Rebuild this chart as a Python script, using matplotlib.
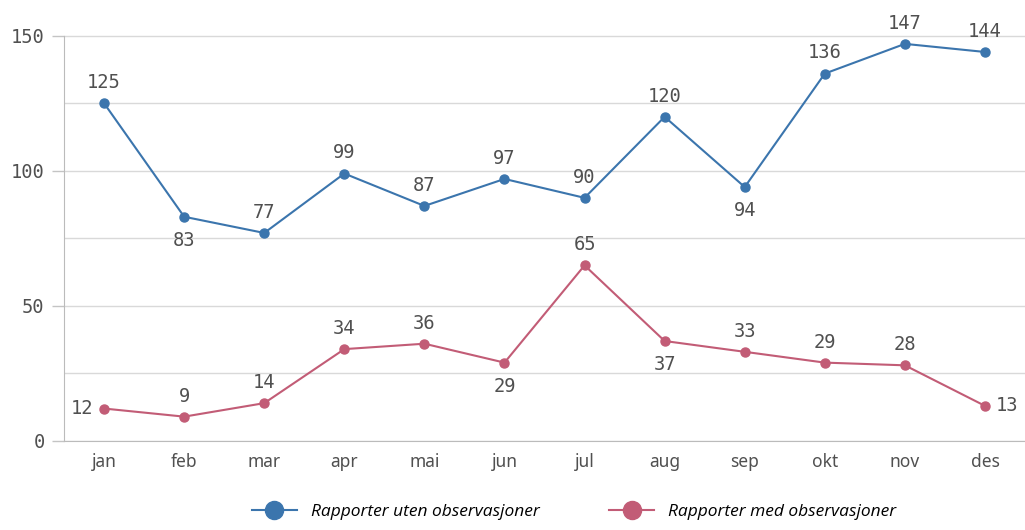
import matplotlib
matplotlib.use('Agg')
import matplotlib.pyplot as plt
from matplotlib.lines import Line2D

months = ['jan', 'feb', 'mar', 'apr', 'mai', 'jun', 'jul', 'aug', 'sep', 'okt', 'nov', 'des']
uten = [125, 83, 77, 99, 87, 97, 90, 120, 94, 136, 147, 144]
med = [12, 9, 14, 34, 36, 29, 65, 37, 33, 29, 28, 13]
# label placement per point: 'a' above, 'b' below, 'l' left, 'r' right
uten_pos = ['a', 'b', 'a', 'a', 'a', 'a', 'a', 'a', 'b', 'a', 'a', 'a']
med_pos = ['l', 'a', 'a', 'a', 'a', 'b', 'a', 'b', 'a', 'a', 'a', 'r']

blue = '#3b75ad'
red = '#c25c76'
txt = '#505050'

fig = plt.figure(figsize=(10.25, 5.3), dpi=100)
ax = fig.add_axes([0.0625, 0.168, 0.9375, 0.79])

x = list(range(len(months)))
ax.plot(x, uten, color=blue, lw=1.5, marker='o', ms=6.5)
ax.plot(x, med, color=red, lw=1.5, marker='o', ms=6.5)

mono = 'DejaVu Sans Mono'
offs = {'a': (0, 8, 'center', 'bottom'), 'b': (0, -10, 'center', 'top'),
        'l': (-8, 0, 'right', 'center'), 'r': (8, 0, 'left', 'center')}
for vals, pos in ((uten, uten_pos), (med, med_pos)):
    for i, (v, p) in enumerate(zip(vals, pos)):
        dx, dy, ha, va = offs[p]
        ax.annotate(str(v), (i, v), xytext=(dx, dy), textcoords='offset points',
                    ha=ha, va=va, fontsize=13.5, color=txt, family=mono)

ax.set_xlim(-0.5, 11.5)
ax.set_ylim(0, 155)
ax.set_yticks([0, 50, 100, 150])
ax.set_yticks([25, 75, 125], minor=True)
ax.set_xticks(x)
ax.set_xticklabels(months, fontsize=12.5, color=txt, family='Noto Sans')
for lab in ax.get_yticklabels():
    lab.set_family(mono)
ax.tick_params(axis='y', which='major', length=9, width=1, color='#c4c4c4', labelsize=13.5,
               labelcolor=txt, pad=5)
ax.tick_params(axis='y', which='minor', length=0)
ax.tick_params(axis='x', length=0, pad=9)
ax.grid(axis='y', which='both', color='#d9d9d9', lw=1)
ax.set_axisbelow(True)
for s in ('top', 'right'):
    ax.spines[s].set_visible(False)
ax.spines['left'].set_color('#bbbbbb')
ax.spines['left'].set_bounds(0, 150)
ax.spines['bottom'].set_color('#bbbbbb')

handles = [Line2D([], [], color=blue, marker='o', ms=13, lw=1.5),
           Line2D([], [], color=red, marker='o', ms=13, lw=1.5)]
fig.legend(handles, ['Rapporter uten observasjoner', 'Rapporter med observasjoner'],
           loc='lower center', bbox_to_anchor=(0.56, -0.01), ncol=2, frameon=False,
           handlelength=2.6, columnspacing=4,
           prop={'family': 'Open Sans', 'style': 'italic', 'size': 12.5})

plt.savefig('out.png', dpi=100)
plt.close()
